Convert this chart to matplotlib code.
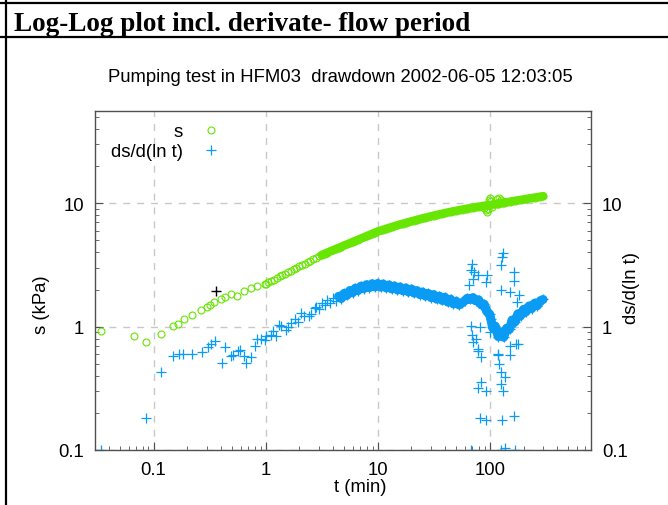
import matplotlib
matplotlib.use("Agg")
import matplotlib.pyplot as plt
from matplotlib.lines import Line2D

plt.rcParams["font.family"] = ["Liberation Sans", "DejaVu Sans"]

# =======================
# Data
# =======================

# drawdown s (kPa), early sparse part
t_s_early = [0.034, 0.067, 0.085, 0.117, 0.150, 0.166, 0.185, 0.219, 0.266, 0.297,
             0.320, 0.347, 0.401, 0.438, 0.486, 0.560, 0.641, 0.736, 0.844, 0.980]
s_early = [0.93, 0.84, 0.75, 0.87, 1.01, 1.06, 1.15, 1.25, 1.36, 1.45,
           1.51, 1.57, 1.67, 1.75, 1.85, 1.78, 1.96, 2.04, 2.13, 2.22]

# dense part of the record (min)
t_dense = [1.00, 1.06, 1.12, 1.19, 1.26, 1.33, 1.41, 1.50, 1.58, 1.68,
           1.78, 1.88, 2.00, 2.11, 2.24, 2.37, 2.51, 2.66, 2.82, 2.99,
           3.16, 3.35, 3.55, 3.76, 3.98, 4.22, 4.47, 4.73, 5.01, 5.31,
           5.62, 5.96, 6.31, 6.68, 7.08, 7.50, 7.94, 8.41, 8.91, 9.44,
           10.0, 10.6, 11.2, 11.9, 12.6, 13.3, 14.1, 15.0, 15.8, 16.8,
           17.8, 18.8, 20.0, 21.1, 22.4, 23.7, 25.1, 26.6, 28.2, 29.9,
           31.6, 33.5, 35.5, 37.6, 39.8, 42.2, 44.7, 47.3, 50.1, 53.1,
           56.2, 59.6, 63.1, 66.8, 70.8, 75.0, 79.4, 84.1, 89.1, 94.4,
           100, 106, 112, 119, 126, 133, 141, 150, 158, 168,
           178, 188, 200, 211, 224, 237, 251, 266, 282, 299]
s_dense = [2.22, 2.29, 2.35, 2.41, 2.48, 2.55, 2.62, 2.69, 2.76, 2.84,
           2.92, 2.99, 3.08, 3.16, 3.25, 3.34, 3.43, 3.52, 3.62, 3.72,
           3.82, 3.90, 3.99, 4.08, 4.17, 4.26, 4.36, 4.45, 4.55, 4.65,
           4.75, 4.86, 4.97, 5.08, 5.19, 5.30, 5.42, 5.54, 5.66, 5.79,
           5.92, 6.02, 6.12, 6.22, 6.33, 6.43, 6.53, 6.64, 6.74, 6.84,
           6.95, 7.05, 7.15, 7.25, 7.36, 7.46, 7.56, 7.66, 7.76, 7.86,
           7.96, 8.06, 8.15, 8.25, 8.34, 8.44, 8.53, 8.63, 8.71, 8.81,
           8.90, 8.98, 9.07, 9.16, 9.24, 9.32, 9.40, 9.48, 9.56, 9.63,
           9.70, 9.79, 9.87, 9.96, 10.05, 10.13, 10.22, 10.31, 10.40, 10.49,
           10.58, 10.67, 10.76, 10.86, 10.95, 11.05, 11.14, 11.24, 11.34, 11.44]

# scatter of s around t = 100 min
t_s_blob = [88, 92, 95, 97, 99, 101, 103, 105, 115, 118, 121, 124, 127, 130]
s_blob = [9.2, 8.8, 8.5, 9.0, 10.6, 11.0, 10.4, 9.3, 10.8, 9.8, 11.1, 10.2, 10.7, 10.0]

# derivative ds/d(ln t), early sparse part
t_d_early = [0.034, 0.085, 0.117, 0.150, 0.169, 0.182, 0.219, 0.270, 0.303, 0.325,
             0.352, 0.404, 0.438, 0.489, 0.516, 0.572, 0.591, 0.641, 0.668, 0.736,
             0.804, 0.844, 0.903, 0.980, 1.00, 1.11, 1.17, 1.23, 1.32, 1.38,
             1.53, 1.58, 1.67, 1.81, 1.93, 2.05, 2.19, 2.43, 2.55, 2.78]
d_early = [0.10, 0.183, 0.431, 0.574, 0.596, 0.603, 0.603, 0.626, 0.679, 0.723,
           0.770, 0.507, 0.684, 0.578, 0.592, 0.630, 0.650, 0.578, 0.503, 0.570,
           0.697, 0.788, 0.799, 0.779, 0.840, 0.861, 0.916, 0.840, 1.04, 1.02,
           0.945, 0.99, 1.07, 1.15, 1.10, 1.28, 1.22, 1.22, 1.27, 1.42]

# derivative, dense part (same times as t_dense from 2.82 min on)
d_dense = [1.45, 1.40, 1.55, 1.50, 1.63, 1.56, 1.70, 1.62, 1.76, 1.69,
           1.86, 1.79, 1.96, 1.88, 2.05, 1.96, 2.13, 2.03, 2.19, 2.07,
           2.23, 2.10, 2.24, 2.09, 2.22, 2.06, 2.18, 2.02, 2.14, 1.98,
           2.10, 1.95, 2.06, 1.91, 2.02, 1.87, 1.96, 1.82, 1.91, 1.77,
           1.86, 1.72, 1.82, 1.67, 1.77, 1.63, 1.73, 1.58, 1.67, 1.53,
           1.61, 1.50, 1.55, 1.62, 1.70, 1.66, 1.72, 1.62, 1.65, 1.50,
           1.52, 1.32, 1.26, 0.98, 1.01, 0.83, 0.90, 0.82, 0.97, 0.95,
           1.13, 1.09, 1.27, 1.22, 1.38, 1.32, 1.47, 1.40, 1.55, 1.48,
           1.62, 1.66]

# derivative outliers between 60 and 180 min
t_d_spk = [131, 129, 125, 70, 68.5, 73, 71, 78.7, 65.6, 94.5, 92.5, 166, 166, 127, 150,
           182, 174, 68.5, 81, 70, 76, 78.7, 103, 100, 178, 150, 118, 71, 78.7, 84,
           118, 122, 127, 136, 125, 131, 84, 78.7, 91.7, 150, 170, 81, 91.7, 129, 166,
           68.5, 127, 136, 169]
d_spk = [3.92, 3.68, 3.15, 3.25, 2.87, 2.78, 2.45, 2.61, 2.19, 2.62, 2.28, 2.75, 2.35, 1.97, 1.91,
         1.82, 1.59, 1.02, 0.99, 0.85, 0.80, 0.66, 1.16, 0.905, 0.73, 0.70, 0.60, 0.75, 0.64, 0.57,
         0.585, 0.50, 0.43, 0.39, 0.344, 0.30, 0.355, 0.32, 0.30, 0.585, 0.73, 0.182, 0.176, 0.176, 0.188,
         0.10, 0.10, 0.104, 0.10]

# single black cross
t_mark = [0.36]
v_mark = [1.96]

green = "#66e600"
blue = "#0a9bf5"
fs = 13.3

# =======================
# Figure
# =======================
fig = plt.figure(figsize=(6.68, 5.06), dpi=100)

# page frame of the report
fig.add_artist(Line2D([0, 1], [1 - 3.5 / 506, 1 - 3.5 / 506], color="black", lw=1.6))
fig.add_artist(Line2D([0, 1], [1 - 38 / 506, 1 - 38 / 506], color="black", lw=1.6))
fig.add_artist(Line2D([6 / 668, 6 / 668], [0, 1], color="black", lw=1.6))
fig.text(14 / 668, 1 - 31 / 506, "Log-Log plot incl. derivate- flow period",
         family="Liberation Serif", weight="bold", fontsize=19.5)

ax = fig.add_axes([95 / 668, 1 - 451 / 506, 496 / 668, 339 / 506])
ax.set_xscale("log")
ax.set_yscale("log")
ax.set_xlim(0.03, 800)
ax.set_ylim(0.1, 56)

# the record is so dense that it shows as a solid band: stroke it behind the markers
ax.plot(t_dense[20:], s_dense[20:], "-", color=green, lw=6.0, solid_capstyle="round")
ax.plot(t_dense[26:], d_dense[8:], "-", color=blue, lw=6.5, solid_capstyle="round")

ax.plot(t_s_early + t_dense + t_s_blob, s_early + s_dense + s_blob, "o", mfc="none",
        mec=green, ms=5, mew=0.8, label="s")
ax.plot(t_d_early + t_dense[18:] + t_d_spk, d_early + d_dense + d_spk, "+",
        color=blue, ms=6.5, mew=0.9, label="ds/d(ln t)")
ax.plot(t_mark, v_mark, "+", color="black", ms=6.5, mew=1.0)

ax.set_xticks([0.1, 1, 10, 100])
ax.set_xticklabels(["0.1", "1", "10", "100"])
ax.set_yticks([0.1, 1, 10])
ax.set_yticklabels(["0.1", "1", "10"])
ax.tick_params(which="both", direction="in", labelsize=fs, colors="#505050",
               labelcolor="black", right=True, labelright=True, top=False)
ax.tick_params(which="major", length=6, pad=8)
ax.tick_params(which="minor", length=3)
ax.grid(which="major", ls=(0, (5, 5)), color="#c8c8c8", lw=1)
for sp in ax.spines.values():
    sp.set_color("#505050")
    sp.set_linewidth(1.0)

handles, labels = ax.get_legend_handles_labels()
ax.legend(handles[-2:], labels[-2:], loc="upper left",
          bbox_to_anchor=(102 / 668, 1 - 115 / 506),
          bbox_transform=fig.transFigure, frameon=False, markerfirst=False,
          handlelength=1.2, handletextpad=0.9, fontsize=fs, labelspacing=0.15,
          borderpad=0)

fig.text(340 / 668, 1 - 77 / 506, "Pumping test in HFM03  drawdown 2002-06-05 12:03:05",
         ha="center", va="center", fontsize=fs)
fig.text(360 / 668, 1 - 488 / 506, "t (min)", ha="center", va="center", fontsize=fs)
fig.text(42 / 668, 1 - 305 / 506, "s (kPa)", ha="center", va="center", rotation=90,
         fontsize=fs)
fig.text(632 / 668, 1 - 288 / 506, "ds/d(ln t)", ha="center", va="center", rotation=90,
         fontsize=fs)

fig.savefig("out.png", dpi=100)
